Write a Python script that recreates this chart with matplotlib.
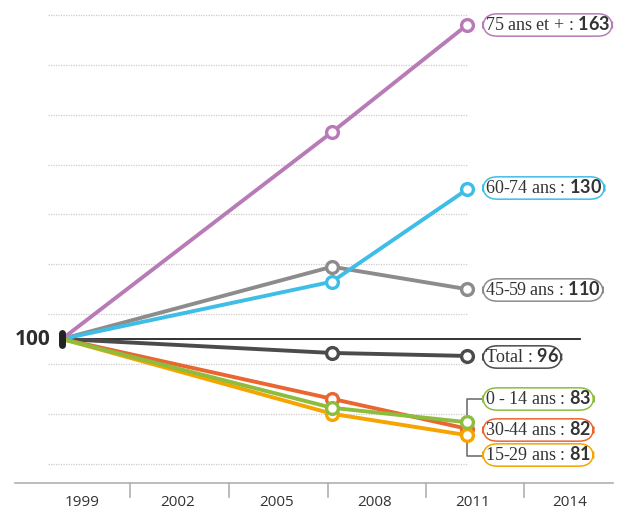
import matplotlib
matplotlib.use("Agg")
import matplotlib.pyplot as plt

plt.rcParams['mathtext.fontset'] = 'custom'
plt.rcParams['mathtext.bf'] = 'Lato:bold'

# données (indice base 100 en 1999)
years = [1999, 2007, 2011]
s75 = [100, 141.5, 163]
s60 = [100, 111.5, 130]
s45 = [100, 114.5, 110]
total = [100, 97.2, 96.6]
s0_14 = [100, 86.2, 83.3]
s30_44 = [100, 88, 82]
s15_29 = [100, 85, 80.7]

year_labels = ['1999', '2002', '2005', '2008', '2011', '2014']
grid_values = [75, 85, 95, 105, 115, 125, 135, 145, 155, 165]

# (valeurs, couleur, libellé, valeur affichée, position de l'étiquette en px)
series = [
    (total, '#4b4b4b', 'Total', 96, 357),
    (s45, '#8c8c8c', '45-59 ans', 110, 290),
    (s60, '#3ebde6', '60-74 ans', 130, 188),
    (s75, '#b87bb7', '75 ans et +', 163, 25),
    (s30_44, '#eb6530', '30-44 ans', 82, 430),
    (s15_29, '#f5a400', '15-29 ans', 81, 455),
    (s0_14, '#8cbd3c', '0 - 14 ans', 83, 399),
]

# mise en page en pixels -> coordonnées
def px_x(p):
    return 1999 + (p - 62) / 33.75

def px_y(p):
    return 100 - (p - 339) / 4.984

fig = plt.figure(figsize=(6.21, 5.11), dpi=100)
ax = fig.add_axes([0, 0, 1, 1])
ax.set_xlim(px_x(0), px_x(621))
ax.set_ylim(px_y(511), px_y(0))
ax.axis('off')

# grille pointillée
for g in grid_values:
    ax.plot([px_x(48), px_x(467)], [g, g], color='#cccccc', lw=0.9,
            ls=(0, (1, 1)), zorder=1)

# ligne de base 100
ax.plot([years[0], px_x(580)], [100, 100], color='#222222', lw=1.3, zorder=2)

# axe des x
ya = px_y(483)
ax.plot([px_x(15), px_x(613)], [ya, ya], color='#b0b0b0', lw=1.2, zorder=1)
for p in [130, 229, 328, 426, 524]:
    ax.plot([px_x(p), px_x(p)], [ya, px_y(497)], color='#b0b0b0', lw=1.2)
for lbl, p in zip(year_labels, [82, 178, 277, 375, 473, 570]):
    ax.text(px_x(p), px_y(502), lbl, ha='center', va='center',
            fontsize=11, family='Open Sans', color='#333333')

# séries
for vals, col, name, shown, ly in series:
    ax.plot(years, vals, color=col, lw=2.8, zorder=3, solid_capstyle='round')
    ax.plot(years[1:], vals[1:], 'o', color=col, mfc='white', ms=8.5,
            mew=2.4, zorder=4)

# point de départ
ax.plot([years[0], years[0]], [98.8, 101.2], color='#222222', lw=5,
        solid_capstyle='round', zorder=5)
ax.text(px_x(33), 100, '100', ha='center', va='center', fontsize=15,
        family='Open Sans', weight='bold', color='#2d2d2d')

# étiquettes
for vals, col, name, shown, ly in series:
    ax.text(px_x(485), px_y(ly),
            name + ' : $\\mathbf{' + str(shown) + '}$',
            ha='left', va='center', fontsize=13, family='Liberation Serif',
            color='#333333', zorder=6,
            bbox=dict(boxstyle='round,pad=0.12,rounding_size=0.8',
                      fc='white', ec=col, lw=1.1))

# accolade pour les petites valeurs
ax.plot([px_x(482), px_x(467), px_x(467), px_x(482)],
        [px_y(399), px_y(399), px_y(456), px_y(456)],
        color='#666666', lw=1.1, zorder=2)

fig.savefig('out.png', dpi=100)
